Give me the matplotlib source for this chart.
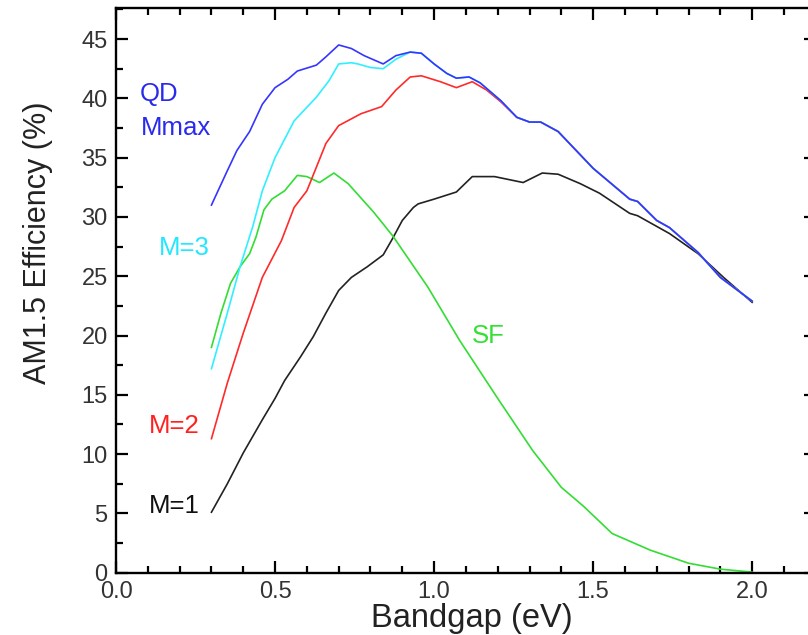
import numpy as np
import matplotlib
matplotlib.use('Agg')
import matplotlib.pyplot as plt
from matplotlib.ticker import MultipleLocator

plt.rcParams['font.family'] = ['Liberation Sans', 'DejaVu Sans']

# efficiency curves (bandgap in eV, efficiency in %)
x_qd = [0.30, 0.35, 0.38, 0.42, 0.46, 0.50, 0.54, 0.57, 0.63, 0.66, 0.70, 0.74, 0.78, 0.84, 0.88,
        0.925, 0.96, 1.00, 1.04, 1.07, 1.11, 1.145, 1.21, 1.26, 1.30, 1.335, 1.39, 1.50, 1.615,
        1.64, 1.70, 1.74, 1.83, 1.90, 2.00]
y_qd = [31.0, 33.9, 35.6, 37.2, 39.5, 40.9, 41.6, 42.3, 42.8, 43.5, 44.5, 44.2, 43.6, 42.9, 43.6,
        43.9, 43.8, 42.9, 42.1, 41.7, 41.8, 41.3, 39.8, 38.4, 38.0, 38.0, 37.2, 34.1, 31.5,
        31.3, 29.7, 29.1, 27.0, 24.9, 22.9]

x_m3 = [0.30, 0.35, 0.39, 0.43, 0.46, 0.50, 0.56, 0.63, 0.67, 0.70, 0.74, 0.76, 0.80, 0.84, 0.88,
        0.925, 0.96, 1.00, 1.04, 1.07, 1.11, 1.145, 1.21, 1.26, 1.30, 1.335, 1.39, 1.50, 1.615,
        1.64, 1.70, 1.74, 1.83, 1.90, 2.00]
y_m3 = [17.2, 21.9, 25.8, 29.2, 32.2, 35.0, 38.1, 40.1, 41.5, 42.9, 43.0, 42.9, 42.6, 42.5, 43.3,
        43.9, 43.8, 42.9, 42.1, 41.7, 41.8, 41.3, 39.8, 38.4, 38.0, 38.0, 37.2, 34.1, 31.5,
        31.3, 29.7, 29.1, 27.0, 24.9, 22.9]

x_m2 = [0.30, 0.35, 0.40, 0.46, 0.52, 0.56, 0.60, 0.63, 0.66, 0.70, 0.77, 0.835, 0.88, 0.925,
        0.96, 1.02, 1.07, 1.12, 1.165, 1.21, 1.26, 1.30, 1.335, 1.39, 1.50, 1.615, 1.64, 1.70,
        1.74, 1.83, 1.90, 2.00]
y_m2 = [11.3, 16.0, 20.2, 24.9, 28.0, 30.8, 32.2, 34.2, 36.2, 37.7, 38.7, 39.3, 40.7, 41.8,
        41.9, 41.4, 40.9, 41.4, 40.7, 39.7, 38.4, 38.0, 38.0, 37.2, 34.1, 31.5, 31.3, 29.7,
        29.1, 27.0, 24.9, 22.9]

x_m1 = [0.30, 0.35, 0.40, 0.46, 0.50, 0.53, 0.58, 0.62, 0.66, 0.70, 0.74, 0.79, 0.84, 0.87, 0.90,
        0.935, 0.95, 1.00, 1.07, 1.12, 1.19, 1.28, 1.34, 1.39, 1.46, 1.52, 1.615, 1.64, 1.70,
        1.74, 1.83, 1.91, 2.00]
y_m1 = [5.1, 7.5, 10.1, 12.9, 14.7, 16.2, 18.2, 19.9, 21.9, 23.8, 24.9, 25.8, 26.8, 28.2, 29.7,
        30.8, 31.1, 31.5, 32.1, 33.4, 33.4, 32.9, 33.7, 33.6, 32.8, 32.0, 30.3, 30.1, 29.2,
        28.6, 26.9, 24.9, 22.8]

x_sf = [0.30, 0.33, 0.36, 0.39, 0.42, 0.44, 0.465, 0.49, 0.53, 0.57, 0.60, 0.64, 0.685, 0.73,
        0.77, 0.81, 0.87, 0.98, 1.08, 1.20, 1.31, 1.40, 1.47, 1.56, 1.68, 1.80, 1.90, 2.00]
y_sf = [19.0, 21.9, 24.4, 25.8, 26.9, 28.3, 30.6, 31.5, 32.2, 33.5, 33.4, 32.9, 33.7, 32.8,
        31.6, 30.4, 28.4, 24.1, 19.6, 14.7, 10.3, 7.2, 5.6, 3.3, 1.9, 0.8, 0.3, 0.05]

c_blue = '#3535ff'
c_cyan = '#30f0ff'
c_red = '#ff2a2a'
c_green = '#33dd33'
c_black = '#222222'

fig = plt.figure(figsize=(8.08, 6.35), dpi=100)
ax = fig.add_axes([0.1436, 0.0981, 0.866, 0.889])

lw = 1.2
ax.plot(x_m1, y_m1, color=c_black, lw=lw)
ax.plot(x_sf, y_sf, color=c_green, lw=lw)
ax.plot(x_m2, y_m2, color=c_red, lw=lw)
ax.plot(x_m3, y_m3, color=c_cyan, lw=lw)
ax.plot(x_qd, y_qd, color=c_blue, lw=lw)

# curve labels
fs = 18.5
ax.text(0.0755, 39.74, 'QD', color='#2a2aee', fontsize=fs)
ax.text(0.078, 36.87, 'Mmax', color='#2a2aee', fontsize=fs)
ax.text(0.136, 26.77, 'M=3', color='#22e8ff', fontsize=fs)
ax.text(0.102, 11.74, 'M=2', color='#ff2020', fontsize=fs)
ax.text(0.102, 5.0, 'M=1', color='#111111', fontsize=fs)
ax.text(1.118, 19.33, 'SF', color='#33e033', fontsize=fs)

ax.set_xlim(0, 2.2)
ax.set_ylim(0, 47.6)
ax.xaxis.set_major_locator(MultipleLocator(0.5))
ax.xaxis.set_minor_locator(MultipleLocator(0.1))
ax.yaxis.set_major_locator(MultipleLocator(5))
ax.yaxis.set_minor_locator(MultipleLocator(2.5))
ax.xaxis.set_major_formatter(plt.FormatStrFormatter('%.1f'))
ax.yaxis.set_major_formatter(plt.FormatStrFormatter('%d'))

ax.tick_params(which='both', direction='in', top=True, right=True, width=1.6,
               labelsize=17, labelcolor='#333333', pad=6)
ax.tick_params(which='major', length=8.5)
ax.tick_params(which='minor', length=5)
for sp in ax.spines.values():
    sp.set_linewidth(1.7)

ax.set_xlabel('Bandgap (eV)', fontsize=23.5, color='#222222', labelpad=0)
ax.xaxis.label.set_x(0.509)
ax.set_ylabel('AM1.5 Efficiency (%)', fontsize=22, color='#222222')
ax.yaxis.set_label_coords(-0.0896, 0.584)

fig.savefig('out.png', dpi=100)
